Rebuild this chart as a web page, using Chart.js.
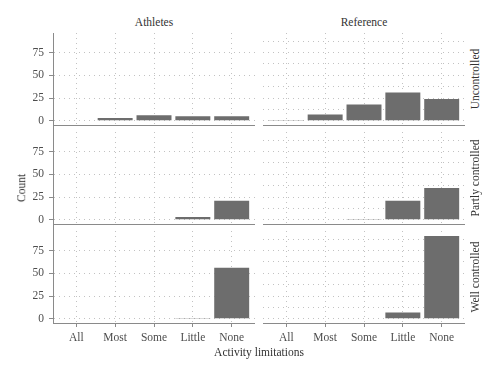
<!DOCTYPE html>
<html><head><meta charset="utf-8">
<script src="https://cdn.jsdelivr.net/npm/chart.js@4/dist/chart.umd.min.js"></script>
<style>
html,body{margin:0;padding:0;background:#fff;}
#wrap{position:relative;width:500px;height:377px;overflow:hidden;font-family:'Liberation Serif',serif;color:#333;}
#wrap canvas{position:absolute;}
.lbl{position:absolute;font-size:11.5px;white-space:nowrap;line-height:1;transform:translate(-50%,-50%);}
.rot{transform:translate(-50%,-50%) rotate(-90deg);}
</style></head><body>
<div id="wrap"></div>
<script>
// ---- data ----
const categories = ['All','Most','Some','Little','None'];
const groups = ['Athletes','Reference'];
const controlLevels = ['Uncontrolled','Partly controlled','Well controlled'];
const athletesUncontrolled = [0, 3, 6, 5, 5];
const referenceUncontrolled = [1, 7, 18, 31, 24];
const athletesPartly = [0, 0, 0, 3, 21];
const referencePartly = [0, 0, 1, 21, 35];
const athletesWell = [0, 0, 0, 1, 56];
const referenceWell = [0, 0, 0, 7, 91];
const yTickLabels = [0, 25, 50, 75];
const yGridValues = [0, 12.5, 25, 37.5, 50, 62.5, 75, 87.5];
const xTitle = 'Activity limitations';
const yTitle = 'Count';

const panelData = [
  [athletesUncontrolled, referenceUncontrolled],
  [athletesPartly, referencePartly],
  [athletesWell, referenceWell]
];

// ---- layout ----
const colLeft = [53, 263], colW = 202;
const rowTop = [33, 132, 231], rowH = 92;
const yAxisW = 30, padTop = 2;
const FONT = "'Liberation Serif', serif";
const AXIS = '#8a8a8a', GRID = '#c2c2c2', BAR = '#6d6d6d', TXT = '#4d4d4d';

const wrap = document.getElementById('wrap');

const gapLine = {
  id: 'gapLine',
  afterDraw(chart, args, opts) {
    if (!opts || !opts.on) return;
    const {ctx, chartArea} = chart;
    const x = Math.round(chartArea.left - 0.5) + 0.5;
    ctx.save();
    ctx.strokeStyle = AXIS; ctx.lineWidth = 1;
    ctx.beginPath(); ctx.moveTo(x, chartArea.bottom); ctx.lineTo(x, chart.height); ctx.stroke();
    ctx.restore();
  }
};

function addLabel(text, x, y, cls) {
  const d = document.createElement('div');
  d.className = 'lbl' + (cls ? ' ' + cls : '');
  d.textContent = text;
  d.style.left = x + 'px';
  d.style.top = y + 'px';
  wrap.appendChild(d);
}

for (let r = 0; r < 3; r++) {
  for (let c = 0; c < 2; c++) {
    const yW = c === 0 ? yAxisW : 0;
    const xH = r === 2 ? 40 : 7;
    const cv = document.createElement('canvas');
    const W = yW + colW, H = padTop + rowH + xH;
    cv.width = W; cv.height = H;
    cv.style.left = (colLeft[c] - yW) + 'px';
    cv.style.top = (rowTop[r] - padTop) + 'px';
    cv.style.width = W + 'px'; cv.style.height = H + 'px';
    wrap.appendChild(cv);
    const vals = panelData[r][c];
    new Chart(cv, {
      type: 'bar',
      data: {
        datasets: [{
          data: vals.map((v, i) => ({x: i, y: v})),
          backgroundColor: BAR,
          borderWidth: 0,
          barPercentage: 0.9,
          categoryPercentage: 1.0
        }]
      },
      plugins: [gapLine],
      options: {
        responsive: false,
        devicePixelRatio: 1,
        animation: false,
        layout: {padding: {top: padTop, left: 0, right: 0, bottom: 0}},
        plugins: {
          legend: {display: false},
          tooltip: {enabled: false},
          gapLine: {on: c === 0 && r < 2}
        },
        scales: {
          x: {
            type: 'linear', min: -0.6, max: 4.6, offset: false,
            afterBuildTicks: s => { s.ticks = categories.map((_, i) => ({value: i})); },
            afterFit: s => { s.height = xH; s.paddingLeft = 0; s.paddingRight = 0; },
            ticks: {
              display: r === 2, autoSkip: false, maxRotation: 0, padding: 4,
              callback: v => categories[v],
              font: {family: FONT, size: 11.5}, color: TXT
            },
            grid: {offset: false, color: GRID, drawTicks: r === 2, tickLength: 4, tickColor: AXIS, tickWidth: 1},
            border: {display: true, color: AXIS, width: 1, dash: [1, 4]}
          },
          y: {
            min: -4.6, max: 96.4,
            afterBuildTicks: s => { s.ticks = yGridValues.map(v => ({value: v})); },
            afterFit: s => { s.width = yW; s.paddingTop = 0; s.paddingBottom = 0; },
            ticks: {
              display: c === 0, padding: 5,
              callback: v => yTickLabels.includes(v) ? String(v) : '',
              font: {family: FONT, size: 11.5}, color: TXT
            },
            grid: {
              color: GRID, drawTicks: c === 0, tickLength: 4, tickWidth: 1,
              tickColor: ctx => (ctx.tick && yTickLabels.includes(ctx.tick.value)) ? AXIS : 'rgba(0,0,0,0)'
            },
            border: {display: c === 0, color: AXIS, width: 1, dash: [1, 4]}
          }
        }
      }
    });
  }
}

// strip labels and titles
groups.forEach((g, c) => addLabel(g, colLeft[c] + colW / 2, 23));
controlLevels.forEach((l, r) => addLabel(l, 476, rowTop[r] + rowH / 2, 'rot'));
addLabel(yTitle, 22, 188, 'rot');
addLabel(xTitle, 259, 353);
</script>
</body></html>
